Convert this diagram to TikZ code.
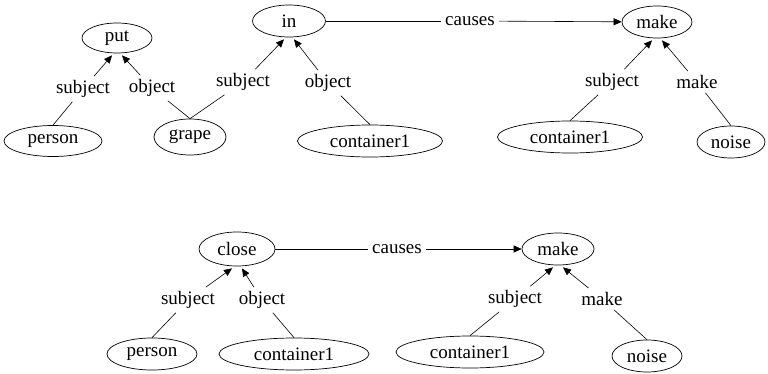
\documentclass[tikz,border=0pt]{standalone}
\usepackage{fontspec}
\newfontfamily\tnrfont{LiberationSerif-Regular.ttf}
\usetikzlibrary{shapes.geometric,arrows.meta}
\begin{document}
\begin{tikzpicture}[x=1pt,y=1pt,
  every node/.style={font=\tnrfont\fontsize{19}{19}\selectfont},
  ell/.style={draw,ellipse,inner sep=0pt,line width=0.7pt},
  lbl/.style={inner sep=4pt},
  edge/.style={line width=0.6pt},
  arr/.style={line width=0.6pt,-{Triangle[length=8pt,width=7pt]}}]
\useasboundingbox (0,0) rectangle (768,-374);
% top row nodes
\node[ell,minimum width=70pt,minimum height=30pt] (put) at (117,-38) {put};
\node[ell,minimum width=98pt,minimum height=31pt] (person1) at (53,-141) {person};
\node[ell,minimum width=72pt,minimum height=36pt] (grape) at (190,-137) {grape};
\node[ell,minimum width=73pt,minimum height=32pt] (in) at (289,-21) {in};
\node[ell,minimum width=145pt,minimum height=32pt] (cont1) at (370,-141) {container1};
\node[ell,minimum width=70pt,minimum height=32pt] (make1) at (657,-22) {make};
\node[ell,minimum width=145pt,minimum height=32pt] (cont2) at (570,-137) {container1};
\node[ell,minimum width=68pt,minimum height=32pt] (noise1) at (731,-142) {noise};
% bottom row nodes
\node[ell,minimum width=76pt,minimum height=34pt] (close) at (237,-249) {close};
\node[ell,minimum width=72pt,minimum height=32pt] (make2) at (558,-249) {make};
\node[ell,minimum width=90pt,minimum height=32pt] (person2) at (152,-354) {person};
\node[ell,minimum width=150pt,minimum height=32pt] (cont3) at (294,-354) {container1};
\node[ell,minimum width=148pt,minimum height=32pt] (cont4) at (470,-352) {container1};
\node[ell,minimum width=70pt,minimum height=32pt] (noise2) at (647,-356) {noise};
% labels
\node[lbl] (s1) at (83,-89) {subject};
\node[lbl] (o1) at (152,-88) {object};
\node[lbl] (s2) at (243,-82) {subject};
\node[lbl] (o2) at (328,-83) {object};
\node[lbl] (c1) at (470,-21) {causes};
\node[lbl] (s3) at (612,-82) {subject};
\node[lbl] (m1) at (697,-82) {make};
\node[lbl] (s4) at (188,-300) {subject};
\node[lbl] (o4) at (262,-300) {object};
\node[lbl] (c2) at (397,-249) {causes};
\node[lbl] (s5) at (515,-299) {subject};
\node[lbl] (m2) at (602,-299) {make};
% edges top
\draw[edge] (person1.north) -- (s1);
\draw[arr] (s1) -- ([xshift=-5pt,yshift=-2pt]put.south);
\draw[edge] (grape.north) -- (o1);
\draw[arr] (o1) -- ([xshift=5pt,yshift=-2pt]put.south);
\draw[edge] (grape.north) -- (s2);
\draw[arr] (s2) -- ([xshift=-5pt,yshift=-2pt]in.south);
\draw[edge] (cont1.north) -- (o2);
\draw[arr] (o2) -- ([xshift=5pt,yshift=-2pt]in.south);
\draw[edge] (in) -- (c1);
\draw[arr] (c1) -- (make1);
\draw[edge] (cont2.north) -- (s3);
\draw[arr] (s3) -- ([xshift=-5pt,yshift=-2pt]make1.south);
\draw[edge] (noise1.north) -- (m1);
\draw[arr] (m1) -- ([xshift=5pt,yshift=-2pt]make1.south);
% edges bottom
\draw[edge] (person2.north) -- (s4);
\draw[arr] (s4) -- ([xshift=-5pt,yshift=-2pt]close.south);
\draw[edge] (cont3.north) -- (o4);
\draw[arr] (o4) -- ([xshift=5pt,yshift=-2pt]close.south);
\draw[edge] (close) -- (c2);
\draw[arr] (c2) -- (make2);
\draw[edge] (cont4.north) -- (s5);
\draw[arr] (s5) -- ([xshift=-5pt,yshift=-2pt]make2.south);
\draw[edge] (noise2.north) -- (m2);
\draw[arr] (m2) -- ([xshift=5pt,yshift=-2pt]make2.south);
\end{tikzpicture}
\end{document}
